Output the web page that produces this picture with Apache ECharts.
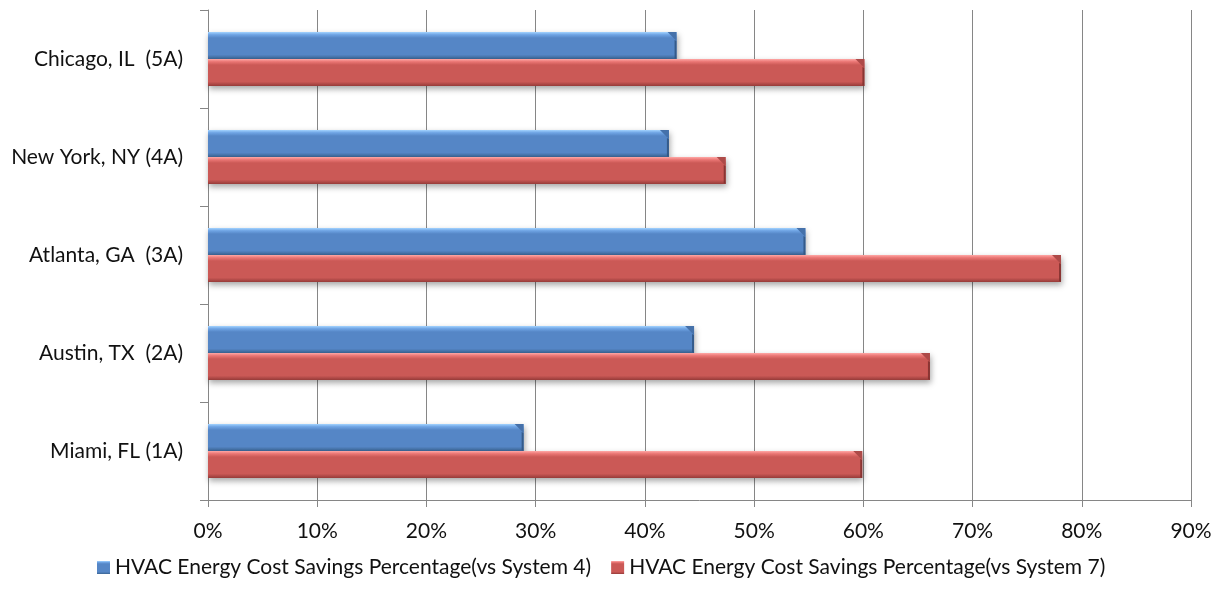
<!DOCTYPE html>
<html>
<head>
<meta charset="utf-8">
<script src="https://cdn.jsdelivr.net/npm/echarts@6/dist/echarts.min.js"></script>
<style>
  html, body { margin: 0; padding: 0; background: #ffffff; }
  #chart { width: 1227px; height: 595px; }
</style>
</head>
<body>
<div id="chart"></div>
<script>
// Climate-zone cities, listed bottom to top along the category axis
const cities = ['Miami, FL (1A)', 'Austin, TX  (2A)', 'Atlanta, GA  (3A)', 'New York, NY (4A)', 'Chicago, IL  (5A)'];

// HVAC energy cost savings, percent
const savingsVsSystem4 = [28.9, 44.5, 54.7, 42.2, 42.9];
const savingsVsSystem7 = [59.9, 66.1, 78.1, 47.4, 60.1];

const seriesNames = [
  'HVAC Energy Cost Savings Percentage(vs System 4)',
  'HVAC Energy Cost Savings Percentage(vs System 7)'
];

const FONT = 'Lato, "Open Sans", sans-serif';
const FONT_SIZE = 21;
const BAR_W = 27;

function bevelFill(light, mid, main, dark) {
  return new echarts.graphic.LinearGradient(0, 0, 0, 1, [
    { offset: 0, color: light },
    { offset: 0.1, color: mid },
    { offset: 0.22, color: main },
    { offset: 0.84, color: main },
    { offset: 1, color: dark }
  ]);
}

const palette = {
  blue: { fill: bevelFill('#a3d3ff', '#6fa4e4', '#5586c6', '#3b6594'), facet: '#4571aa', edge: '#2f5380' },
  red:  { fill: bevelFill('#ffa8a6', '#ea7674', '#cb5956', '#963b39'), facet: '#ad4a48', edge: '#7f2f2d' }
};

// Bevelled right-hand end cap for each bar: a corner facet plus a dark edge
function capRenderer(colors, above) {
  return function (params, api) {
    const end = api.coord([api.value(0), api.value(1)]);
    const top = above ? end[1] - BAR_W : end[1];
    const x = end[0];
    const d = 9;
    return {
      type: 'group',
      children: [
        {
          type: 'polygon',
          shape: { points: [[x - d, top], [x, top], [x, top + d]] },
          style: { fill: colors.facet }
        },
        {
          type: 'polygon',
          shape: { points: [[x, top + d], [x, top + BAR_W], [x - 2, top + BAR_W - 1], [x - 2, top + d - 1]] },
          style: { fill: colors.edge, opacity: 0.85 }
        }
      ]
    };
  };
}

const chart = echarts.init(document.getElementById('chart'), null, { renderer: 'canvas' });

const barShadow = {
  shadowColor: 'rgba(0,0,0,0.35)',
  shadowBlur: 6,
  shadowOffsetY: 3,
  shadowOffsetX: 1
};

chart.setOption({
  animation: false,
  backgroundColor: '#ffffff',
  grid: { left: 208, right: 36, top: 10, bottom: 95, containLabel: false },
  legend: {
    data: seriesNames,
    top: 552,
    left: 92,
    itemWidth: 13,
    itemHeight: 13,
    itemGap: 20,
    icon: 'rect',
    textStyle: { fontFamily: FONT, fontSize: FONT_SIZE, color: '#111111' }
  },
  xAxis: {
    type: 'value',
    min: 0,
    max: 90,
    interval: 10,
    axisLine: { show: true, lineStyle: { color: '#868686', width: 1 } },
    axisTick: { show: true, length: 7, lineStyle: { color: '#868686' } },
    splitLine: { show: true, lineStyle: { color: '#868686', width: 1 } },
    axisLabel: {
      formatter: v => v + '%',
      fontFamily: FONT,
      fontSize: FONT_SIZE,
      color: '#111111',
      margin: 21
    }
  },
  yAxis: {
    type: 'category',
    data: cities,
    axisLine: { show: true, lineStyle: { color: '#868686', width: 1 } },
    axisTick: { show: true, length: 8, lineStyle: { color: '#868686' } },
    splitLine: { show: false },
    axisLabel: {
      fontFamily: FONT,
      fontSize: FONT_SIZE,
      color: '#111111',
      margin: 25
    }
  },
  series: [
    {
      name: seriesNames[0],
      type: 'bar',
      data: savingsVsSystem4,
      barWidth: BAR_W,
      barGap: '0%',
      itemStyle: Object.assign({ color: palette.blue.fill }, barShadow),
      z: 2
    },
    {
      name: seriesNames[1],
      type: 'bar',
      data: savingsVsSystem7,
      barWidth: BAR_W,
      barGap: '0%',
      itemStyle: Object.assign({ color: palette.red.fill }, barShadow),
      z: 2
    },
    {
      name: 'cap-system4',
      type: 'custom',
      silent: true,
      z: 3,
      data: savingsVsSystem4.map((v, i) => [v, i]),
      encode: { x: 0, y: 1 },
      renderItem: capRenderer(palette.blue, true)
    },
    {
      name: 'cap-system7',
      type: 'custom',
      silent: true,
      z: 3,
      data: savingsVsSystem7.map((v, i) => [v, i]),
      encode: { x: 0, y: 1 },
      renderItem: capRenderer(palette.red, false)
    }
  ]
});
</script>
</body>
</html>
